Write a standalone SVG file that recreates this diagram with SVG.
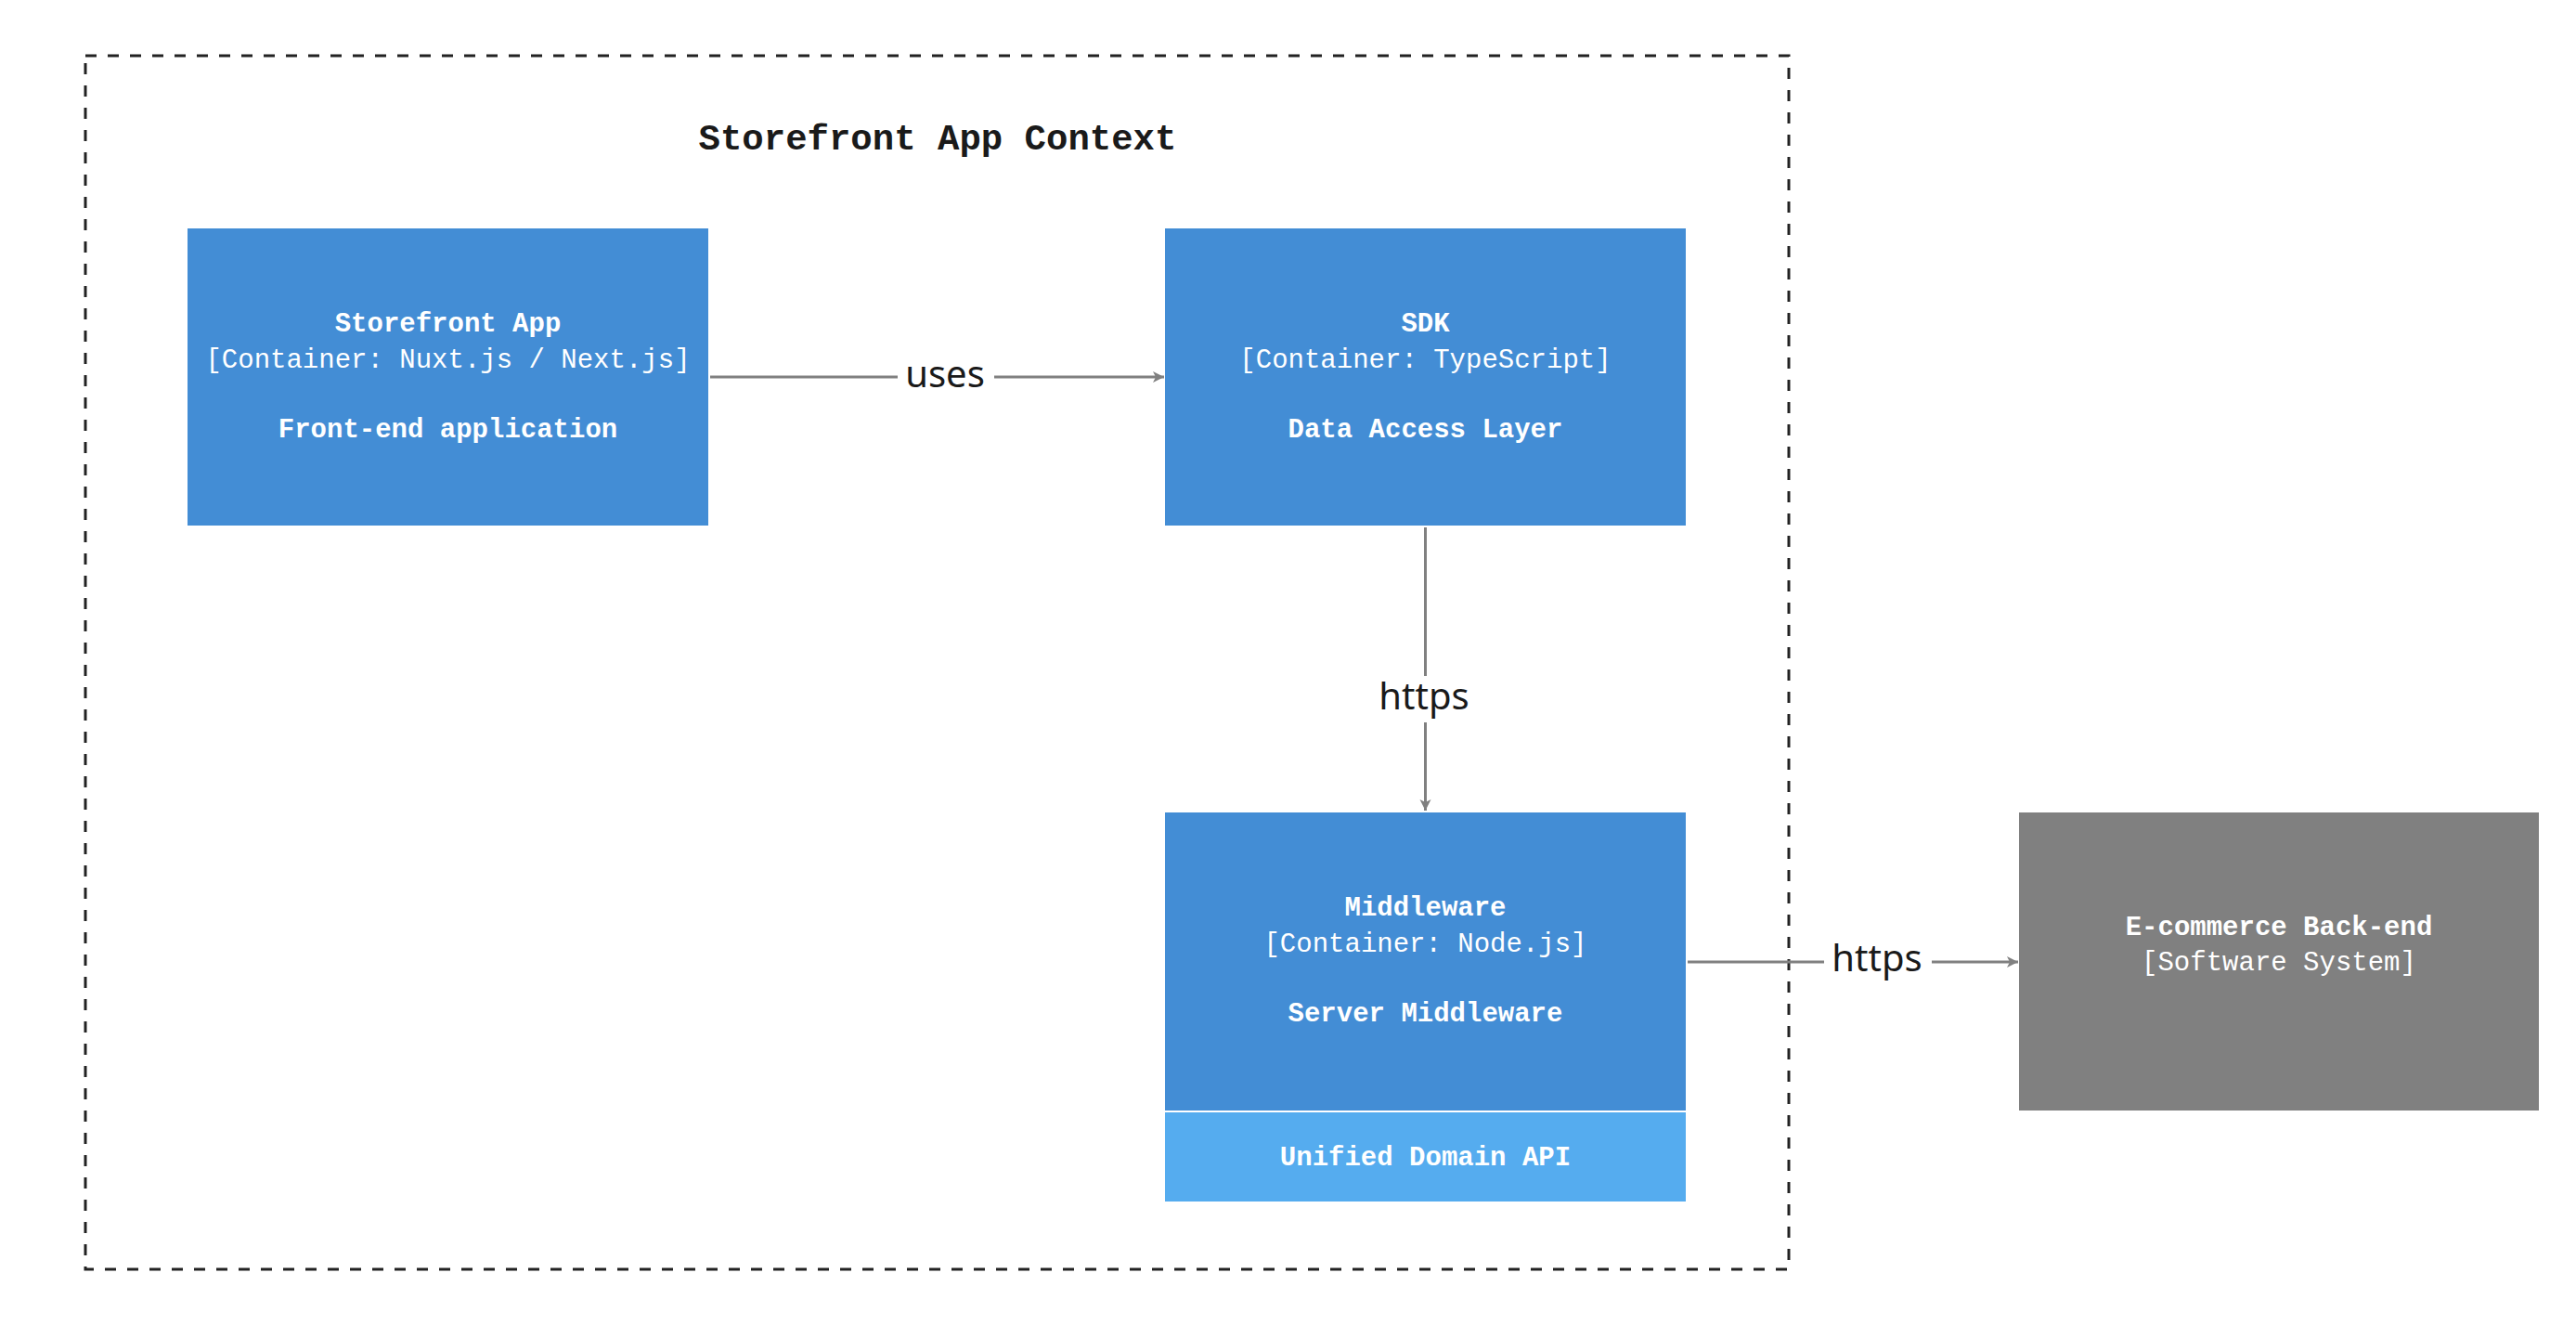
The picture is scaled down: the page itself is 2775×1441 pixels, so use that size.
<svg xmlns="http://www.w3.org/2000/svg" width="2775" height="1441" viewBox="0 0 2775 1441">
  <style>
    .bg { fill: #ffffff; }
    .boundary { fill: none; stroke: #222222; stroke-width: 3; stroke-dasharray: 12 12; }
    .title { font-family: "Liberation Mono", "DejaVu Sans Mono", monospace; font-size: 39px; font-weight: bold; fill: #1a1a1a; text-anchor: middle; }
    .container { fill: #438dd5; }
    .component { fill: #55acef; }
    .external { fill: #808080; }
    .name { font-family: "Liberation Mono", "DejaVu Sans Mono", monospace; font-size: 29px; font-weight: bold; fill: #ffffff; text-anchor: middle; }
    .tech { font-family: "Liberation Mono", "DejaVu Sans Mono", monospace; font-size: 29px; fill: #ffffff; text-anchor: middle; }
    .edge { fill: none; stroke: #808080; stroke-width: 3; }
    .elabel { font-family: "Noto Sans", "Open Sans", sans-serif; font-size: 40px; fill: #1a1a1a; text-anchor: middle; }
  </style>
  <defs>
    <marker id="arrow" markerUnits="userSpaceOnUse" markerWidth="14" markerHeight="14" refX="13" refY="7" orient="auto">
      <path d="M1,1 L13,7 L1,13 L4,7 Z" fill="#808080"/>
    </marker>
  </defs>
  <rect class="bg" x="0" y="0" width="2775" height="1441"/>

  <g id="boundary">
    <rect class="boundary" x="92" y="60" width="1835" height="1307"/>
    <text class="title" x="1010" y="161">Storefront App Context</text>
  </g>

  <g id="connectors">
    <g id="edge-uses">
      <path class="edge" d="M765,406 L967,406"/>
      <path class="edge" d="M1071,406 L1254,406" marker-end="url(#arrow)"/>
      <text class="elabel" x="1018" y="417">uses</text>
    </g>
    <g id="edge-sdk-middleware">
      <path class="edge" d="M1535.5,568 L1535.5,728"/>
      <path class="edge" d="M1535.5,778 L1535.5,873" marker-end="url(#arrow)"/>
      <text class="elabel" x="1534" y="764">https</text>
    </g>
    <g id="edge-middleware-backend">
      <path class="edge" d="M1818,1036 L1965,1036"/>
      <path class="edge" d="M2081,1036 L2174,1036" marker-end="url(#arrow)"/>
      <text class="elabel" x="2022" y="1046">https</text>
    </g>
  </g>

  <g id="storefront-app">
    <rect class="container" x="202" y="246" width="561" height="320"/>
    <text class="name" x="482.5" y="357">Storefront App</text>
    <text class="tech" x="482.5" y="396">[Container: Nuxt.js / Next.js]</text>
    <text class="name" x="482.5" y="471">Front-end application</text>
  </g>

  <g id="sdk">
    <rect class="container" x="1255" y="246" width="561" height="320"/>
    <text class="name" x="1535.5" y="357">SDK</text>
    <text class="tech" x="1535.5" y="396">[Container: TypeScript]</text>
    <text class="name" x="1535.5" y="471">Data Access Layer</text>
  </g>

  <g id="middleware">
    <rect class="container" x="1255" y="875" width="561" height="321"/>
    <text class="name" x="1535.5" y="986">Middleware</text>
    <text class="tech" x="1535.5" y="1025">[Container: Node.js]</text>
    <text class="name" x="1535.5" y="1100">Server Middleware</text>
  </g>

  <g id="unified-domain-api">
    <rect class="component" x="1255" y="1198" width="561" height="96"/>
    <text class="name" x="1535.5" y="1255">Unified Domain API</text>
  </g>

  <g id="ecommerce-backend">
    <rect class="external" x="2175" y="875" width="560" height="321"/>
    <text class="name" x="2455" y="1007">E-commerce Back-end</text>
    <text class="tech" x="2455" y="1045">[Software System]</text>
  </g>
</svg>
